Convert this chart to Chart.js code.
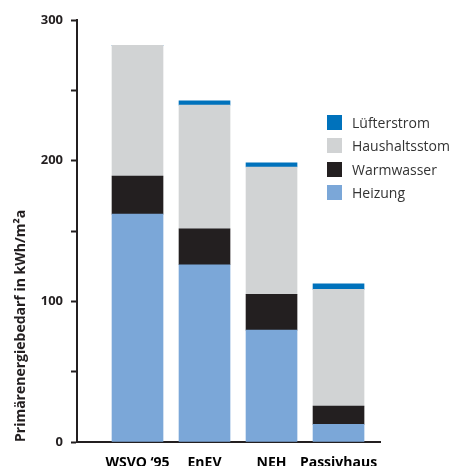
<!DOCTYPE html>
<html>
<head>
<meta charset="utf-8">
<script src="https://cdn.jsdelivr.net/npm/chart.js@4/dist/chart.umd.min.js"></script>
<style>
  body { margin: 0; background: #fff; }
  #wrap { position: relative; width: 451px; height: 466px; }
  #legend { position: absolute; left: 327px; top: 111px; font: 14px "Open Sans", sans-serif; color: #333; }
  #legend div { display: flex; align-items: center; height: 23.3px; }
  #legend span.box { width: 15px; height: 15px; margin-right: 10px; display: inline-block; }
</style>
</head>
<body>
<div id="wrap">
  <canvas id="Chart" width="451" height="466"></canvas>
  <div id="legend"></div>
</div>
<script>
// chart data
const categories = ["WSVO \u201895", "EnEV", "NEH", "Passivhaus"];
const heizung = [162, 126, 79.5, 12.5];
const warmwasser = [27, 25.5, 25.5, 13];
const haushaltsstom = [93, 88, 90.5, 83];
const luefterstrom = [0, 3, 3, 4];
const yTicks = [0, 100, 200, 300];

const dark = "#231f20";

const toPoints = function (vals) {
    return vals.map((v, i) => ({ x: i + 1, y: v }));
};

const datasets = [
    { label: "Heizung", data: toPoints(heizung), backgroundColor: "#7ba7d8" },
    { label: "Warmwasser", data: toPoints(warmwasser), backgroundColor: "#231f20" },
    { label: "Haushaltsstom", data: toPoints(haushaltsstom), backgroundColor: "#d1d3d4" },
    { label: "Lüfterstrom", data: toPoints(luefterstrom), backgroundColor: "#0072bc" },
];

const chart = new Chart(document.getElementById("Chart"), {
    type: "bar",
    data: { datasets: datasets },
    options: {
        responsive: false,
        animation: false,
        barThickness: 51,
        borderWidth: 0,
        layout: { padding: { top: 20, right: 71, bottom: 0, left: 0 } },
        plugins: { legend: { display: false }, tooltip: { enabled: false } },
        scales: {
            x: {
                type: "linear",
                offset: false,
                stacked: true,
                min: 0.097,
                max: 4.619,
                grid: { display: false, offset: false },
                border: { color: dark, width: 2 },
                afterBuildTicks: function (scale) {
                    scale.ticks = categories.map((c, i) => ({ value: i + 1 }));
                },
                afterFit: function (scale) { scale.height = 24; },
                ticks: {
                    autoSkip: false,
                    maxRotation: 0,
                    padding: 5,
                    color: "#000",
                    font: { family: "Open Sans", size: 14, weight: "bold" },
                    callback: (v) => categories[v - 1],
                },
            },
            y: {
                stacked: true,
                min: 0,
                max: 300,
                grid: { drawOnChartArea: false, tickLength: 6, tickWidth: 2, tickColor: dark },
                border: { color: dark, width: 2 },
                afterFit: function (scale) { scale.width = 77; },
                ticks: {
                    stepSize: 50,
                    padding: 8,
                    color: dark,
                    font: { family: "Open Sans", size: 13, weight: "bold" },
                    callback: (v) => yTicks.includes(v) ? v : "",
                },
                title: {
                    display: true,
                    text: "Primärenergiebedarf in kWh/m²a",
                    align: "start",
                    color: dark,
                    padding: { top: 13, bottom: 0 },
                    font: { family: "Open Sans", size: 14, weight: "bold" },
                },
            },
        },
    },
});

// legend, top item = top of stack
const legend = document.getElementById("legend");
datasets.slice().reverse().forEach(function (ds) {
    const row = document.createElement("div");
    row.innerHTML = '<span class="box" style="background:' + ds.backgroundColor + '"></span>' + ds.label;
    legend.appendChild(row);
});
</script>
</body>
</html>
